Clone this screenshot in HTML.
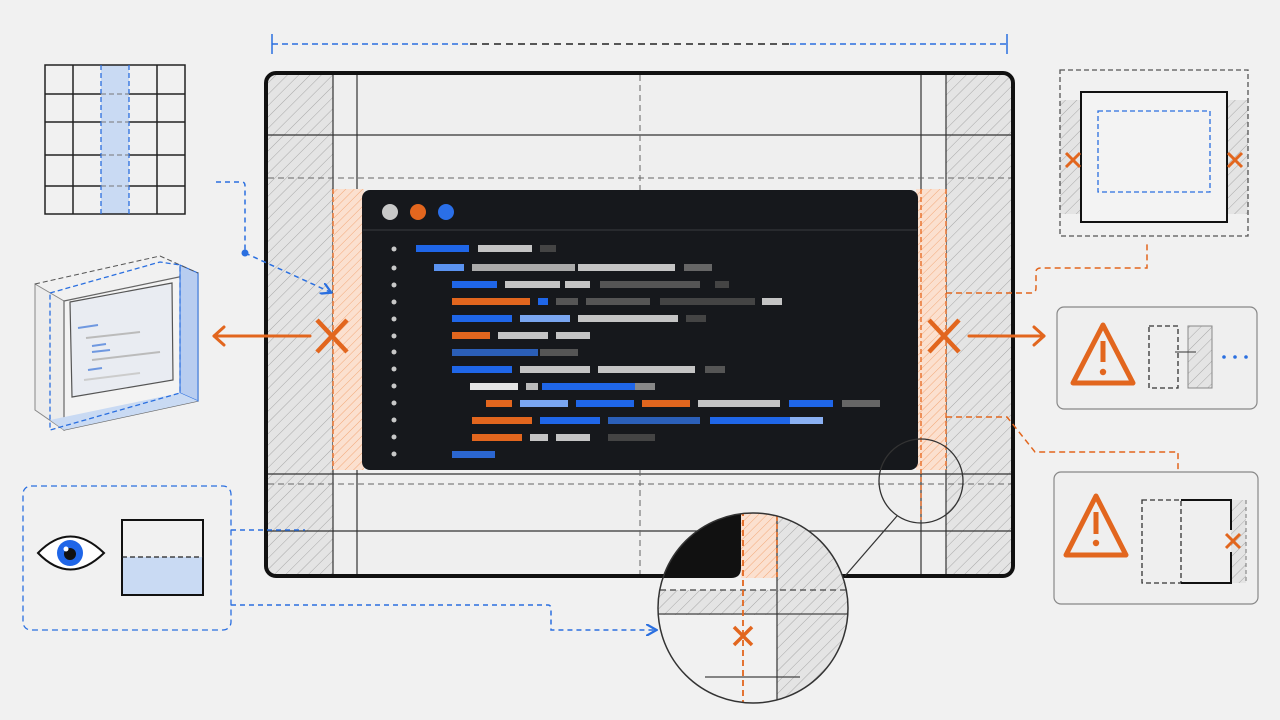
<!DOCTYPE html>
<html><head><meta charset="utf-8"><style>
html,body{margin:0;padding:0;background:#f1f1f1;}
svg{display:block;font-family:"Liberation Sans",sans-serif;}
</style></head><body>
<svg width="1280" height="720" viewBox="0 0 1280 720" xmlns="http://www.w3.org/2000/svg">
<defs>
<pattern id="hg" width="8" height="8" patternUnits="userSpaceOnUse" patternTransform="rotate(45)">
<rect width="8" height="8" fill="#e4e4e4"/><line x1="0" y1="0" x2="0" y2="8" stroke="#a8a8a8" stroke-width="1"/></pattern>
<pattern id="ho" width="6" height="6" patternUnits="userSpaceOnUse" patternTransform="rotate(45)">
<rect width="6" height="6" fill="#fbe0cf"/><line x1="0" y1="0" x2="0" y2="6" stroke="#f3a878" stroke-width="1"/></pattern>
<marker id="ab" markerWidth="8" markerHeight="8" refX="6" refY="4" orient="auto"><path d="M0,0 L7,4 L0,8" fill="none" stroke="#2a6fe0" stroke-width="1.5"/></marker>
<clipPath id="mag"><circle cx="753" cy="608" r="95"/></clipPath>
</defs>
<rect width="1280" height="720" fill="#f1f1f1"/>

<!-- top dimension line -->
<line x1="272" y1="44" x2="470" y2="44" stroke="#2a6fe0" stroke-width="1.5" stroke-dasharray="6,4"/>
<line x1="470" y1="44" x2="790" y2="44" stroke="#222" stroke-width="1.5" stroke-dasharray="7,5"/>
<line x1="790" y1="44" x2="1007" y2="44" stroke="#2a6fe0" stroke-width="1.5" stroke-dasharray="6,4"/>
<line x1="272" y1="34" x2="272" y2="54" stroke="#2a6fe0" stroke-width="1.5"/>
<line x1="1007" y1="34" x2="1007" y2="54" stroke="#2a6fe0" stroke-width="1.5"/>

<!-- main frame -->
<rect x="266" y="73" width="747" height="503" rx="10" fill="#efefef"/>
<rect x="268" y="75" width="65" height="499" fill="url(#hg)"/>
<rect x="946" y="75" width="65" height="499" fill="url(#hg)"/>
<g stroke="#333" stroke-width="1.2">
<line x1="333" y1="75" x2="333" y2="574"/><line x1="357" y1="75" x2="357" y2="574"/>
<line x1="921" y1="75" x2="921" y2="574"/><line x1="946" y1="75" x2="946" y2="574"/>
<line x1="268" y1="135" x2="1011" y2="135"/><line x1="268" y1="474" x2="1011" y2="474"/>
<line x1="268" y1="531" x2="1011" y2="531"/>
</g>
<g stroke="#666" stroke-width="1" stroke-dasharray="6,4">
<line x1="268" y1="178" x2="1011" y2="178"/><line x1="268" y1="484" x2="1011" y2="484"/>
<line x1="640" y1="75" x2="640" y2="190"/><line x1="640" y1="470" x2="640" y2="574"/>
</g>
<rect x="333" y="189" width="31" height="281" fill="url(#ho)"/>
<rect x="916" y="189" width="30" height="281" fill="url(#ho)"/>
<g stroke="#e8661c" stroke-width="1.3" stroke-dasharray="5,3" fill="none">
<line x1="333" y1="189" x2="333" y2="470"/><line x1="946" y1="189" x2="946" y2="470"/>
<line x1="921" y1="189" x2="921" y2="520"/>
</g>
<rect x="266" y="73" width="747" height="503" rx="10" fill="none" stroke="#111" stroke-width="4"/>

<!-- code window -->
<rect x="362" y="190" width="556" height="280" rx="8" fill="#16181c"/>
<line x1="363" y1="230" x2="917" y2="230" stroke="#3a3c40" stroke-width="1"/>
<circle cx="390" cy="212" r="8" fill="#c8c8c8"/><circle cx="418" cy="212" r="8" fill="#e2661e"/><circle cx="446" cy="212" r="8" fill="#2a6fe8"/>
<g fill="#c8c8c8">
<circle cx="394" cy="249" r="2.5"/><circle cx="394" cy="268" r="2.5"/><circle cx="394" cy="285" r="2.5"/><circle cx="394" cy="302" r="2.5"/><circle cx="394" cy="319" r="2.5"/><circle cx="394" cy="336" r="2.5"/><circle cx="394" cy="352" r="2.5"/><circle cx="394" cy="369" r="2.5"/><circle cx="394" cy="386" r="2.5"/><circle cx="394" cy="403" r="2.5"/><circle cx="394" cy="420" r="2.5"/><circle cx="394" cy="437" r="2.5"/><circle cx="394" cy="454" r="2.5"/>
</g>
<g>
<rect x="416" y="245" width="53" height="7" fill="#1f66e8"/><rect x="478" y="245" width="54" height="7" fill="#c4c4c4"/><rect x="540" y="245" width="16" height="7" fill="#444"/>
<rect x="434" y="264" width="30" height="7" fill="#5b93f0"/><rect x="472" y="264" width="103" height="7" fill="#aaa"/><rect x="578" y="264" width="97" height="7" fill="#c4c4c4"/><rect x="684" y="264" width="28" height="7" fill="#666"/>
<rect x="452" y="281" width="45" height="7" fill="#1f66e8"/><rect x="505" y="281" width="55" height="7" fill="#c4c4c4"/><rect x="565" y="281" width="25" height="7" fill="#c4c4c4"/><rect x="600" y="281" width="100" height="7" fill="#555"/><rect x="715" y="281" width="14" height="7" fill="#444"/>
<rect x="452" y="298" width="78" height="7" fill="#e2661e"/><rect x="538" y="298" width="10" height="7" fill="#1f66e8"/><rect x="556" y="298" width="22" height="7" fill="#555"/><rect x="586" y="298" width="64" height="7" fill="#555"/><rect x="660" y="298" width="95" height="7" fill="#444"/><rect x="762" y="298" width="20" height="7" fill="#c4c4c4"/>
<rect x="452" y="315" width="60" height="7" fill="#1f66e8"/><rect x="520" y="315" width="50" height="7" fill="#7aa6f0"/><rect x="578" y="315" width="100" height="7" fill="#c4c4c4"/><rect x="686" y="315" width="20" height="7" fill="#444"/>
<rect x="452" y="332" width="38" height="7" fill="#e2661e"/><rect x="498" y="332" width="50" height="7" fill="#c4c4c4"/><rect x="556" y="332" width="34" height="7" fill="#c4c4c4"/>
<rect x="452" y="349" width="86" height="7" fill="#2b5fb8"/><rect x="540" y="349" width="38" height="7" fill="#555"/>
<rect x="452" y="366" width="60" height="7" fill="#1f66e8"/><rect x="520" y="366" width="70" height="7" fill="#c4c4c4"/><rect x="598" y="366" width="97" height="7" fill="#c4c4c4"/><rect x="705" y="366" width="20" height="7" fill="#555"/>
<rect x="470" y="383" width="48" height="7" fill="#e4e4e4"/><rect x="526" y="383" width="12" height="7" fill="#bbb"/><rect x="542" y="383" width="93" height="7" fill="#1f66e8"/><rect x="635" y="383" width="20" height="7" fill="#888"/>
<rect x="486" y="400" width="26" height="7" fill="#e2661e"/><rect x="520" y="400" width="48" height="7" fill="#7aa6f0"/><rect x="576" y="400" width="58" height="7" fill="#1f66e8"/><rect x="642" y="400" width="48" height="7" fill="#e2661e"/><rect x="698" y="400" width="82" height="7" fill="#c4c4c4"/><rect x="789" y="400" width="44" height="7" fill="#1f66e8"/><rect x="842" y="400" width="38" height="7" fill="#666"/>
<rect x="472" y="417" width="60" height="7" fill="#e2661e"/><rect x="540" y="417" width="60" height="7" fill="#1f66e8"/><rect x="608" y="417" width="92" height="7" fill="#2b5fb8"/><rect x="710" y="417" width="80" height="7" fill="#1f66e8"/><rect x="790" y="417" width="33" height="7" fill="#8ab0f2"/>
<rect x="472" y="434" width="50" height="7" fill="#e2661e"/><rect x="530" y="434" width="18" height="7" fill="#c4c4c4"/><rect x="556" y="434" width="34" height="7" fill="#c4c4c4"/><rect x="608" y="434" width="47" height="7" fill="#444"/>
<rect x="452" y="451" width="43" height="7" fill="#2b66d0"/>
</g>

<!-- X marks and arrows -->
<g stroke="#e2661e" stroke-width="4.5" fill="none" stroke-linecap="butt">
<line x1="317" y1="320" x2="347" y2="352"/><line x1="347" y1="320" x2="317" y2="352"/>
<line x1="929" y1="320" x2="959" y2="352"/><line x1="959" y1="320" x2="929" y2="352"/>
</g>
<g stroke="#e2661e" stroke-width="3" fill="none" stroke-linecap="round" stroke-linejoin="round">
<line x1="310" y1="336" x2="214" y2="336"/><polyline points="224,327 214,336 224,345"/>
<line x1="969" y1="336" x2="1044" y2="336"/><polyline points="1034,327 1044,336 1034,345"/>
</g>
<!-- orange connectors -->
<g stroke="#e2661e" stroke-width="1.5" fill="none" stroke-dasharray="6,4">
<path d="M946,293 H1031 Q1036,293 1036,288 V272 Q1036,268 1041,268 H1147 V243"/>
<path d="M946,417 H1007 L1035,452 H1178 V480"/>
</g>
<!-- blue connectors -->
<g stroke="#2a6fe0" stroke-width="1.5" fill="none" stroke-dasharray="5,4">
<path d="M216,182 H242 Q245,182 245,186 V253"/>
<path d="M245,253 L330,292" marker-end="url(#ab)"/>
<path d="M231,530 H305"/>
<path d="M231,605 H548 Q551,605 551,609 V630 H655" marker-end="url(#ab)"/>
</g>
<circle cx="245" cy="253" r="3.5" fill="#2a6fe0"/>

<!-- grid -->
<rect x="101" y="65" width="28" height="149" fill="#c9daf3"/>
<g stroke="#222" stroke-width="1.5" fill="none">
<rect x="45" y="65" width="140" height="149"/>
<line x1="73" y1="65" x2="73" y2="214"/><line x1="157" y1="65" x2="157" y2="214"/>
<line x1="45" y1="94" x2="101" y2="94"/><line x1="129" y1="94" x2="185" y2="94"/>
<line x1="45" y1="122" x2="101" y2="122"/><line x1="129" y1="122" x2="185" y2="122"/>
<line x1="45" y1="155" x2="101" y2="155"/><line x1="129" y1="155" x2="185" y2="155"/>
<line x1="45" y1="186" x2="101" y2="186"/><line x1="129" y1="186" x2="185" y2="186"/>
</g>
<g stroke="#2a6fe0" stroke-width="1.3" stroke-dasharray="5,3" fill="none">
<line x1="101" y1="65" x2="101" y2="214"/><line x1="129" y1="65" x2="129" y2="214"/>
</g>
<g stroke="#777" stroke-width="1" stroke-dasharray="5,3"><line x1="101" y1="94" x2="129" y2="94"/><line x1="101" y1="122" x2="129" y2="122"/><line x1="101" y1="155" x2="129" y2="155"/><line x1="101" y1="186" x2="129" y2="186"/></g>

<!-- 3D box -->
<polygon points="35,284 64,301 64,430 35,410" fill="#ececec" stroke="#888" stroke-width="1"/>
<polygon points="64,301 198,273 198,401 64,430" fill="#f3f3f3" stroke="#666" stroke-width="1.2"/>
<polygon points="180,265 198,273 198,401 180,393" fill="#b8cdf0" stroke="#2a6fe0" stroke-width="1"/>
<polygon points="50,420 180,393 198,401 64,430" fill="#c9daf3"/>
<path d="M35,284 L160,256 L198,273" fill="none" stroke="#555" stroke-width="1" stroke-dasharray="5,3"/>
<polygon points="50,293 160,262 180,265 180,393 50,430" fill="none" stroke="#2a6fe0" stroke-width="1.3" stroke-dasharray="5,3"/>
<polygon points="70,302 172,283 173,380 72,397" fill="#e9ecf2" stroke="#555" stroke-width="1.2"/>
<g stroke-width="2"><line x1="78" y1="328" x2="98" y2="325" stroke="#6f98e0"/><line x1="86" y1="338" x2="140" y2="332" stroke="#bbb"/><line x1="92" y1="346" x2="106" y2="344" stroke="#6f98e0"/><line x1="92" y1="352" x2="110" y2="350" stroke="#6f98e0"/><line x1="92" y1="360" x2="160" y2="352" stroke="#bbb"/><line x1="88" y1="370" x2="102" y2="368" stroke="#6f98e0"/><line x1="84" y1="380" x2="140" y2="373" stroke="#ccc"/></g>

<!-- eye box -->
<rect x="23" y="486" width="208" height="144" rx="8" fill="none" stroke="#2a6fe0" stroke-width="1.3" stroke-dasharray="6,4"/>
<path d="M38,553 Q70,520 104,553 Q70,586 38,553 Z" fill="#fff" stroke="#111" stroke-width="2"/>
<circle cx="70" cy="553" r="13" fill="#1f66e8"/><circle cx="70" cy="554" r="6" fill="#111"/><circle cx="66" cy="549" r="2.5" fill="#fff"/>
<rect x="122" y="557" width="81" height="38" fill="#c9daf3"/>
<rect x="122" y="520" width="81" height="75" fill="none" stroke="#111" stroke-width="2"/>
<line x1="122" y1="557" x2="203" y2="557" stroke="#222" stroke-width="1.2" stroke-dasharray="5,3"/>

<!-- right top box -->
<rect x="1060" y="100" width="21" height="114" fill="url(#hg)"/><rect x="1227" y="100" width="21" height="114" fill="url(#hg)"/>
<rect x="1060" y="70" width="188" height="166" fill="none" stroke="#555" stroke-width="1.3" stroke-dasharray="5,3"/>
<rect x="1081" y="92" width="146" height="130" fill="#f3f3f3" stroke="#111" stroke-width="2"/>
<rect x="1098" y="111" width="112" height="81" fill="none" stroke="#2a6fe0" stroke-width="1.3" stroke-dasharray="5,3"/>
<g stroke="#e2661e" stroke-width="3"><line x1="1066" y1="153" x2="1080" y2="167"/><line x1="1080" y1="153" x2="1066" y2="167"/><line x1="1228" y1="153" x2="1242" y2="167"/><line x1="1242" y1="153" x2="1228" y2="167"/></g>

<!-- warning box 1 -->
<rect x="1057" y="307" width="200" height="102" rx="7" fill="#efefef" stroke="#888" stroke-width="1.2"/>
<path d="M1103,325 L1133,383 H1073 Z" fill="none" stroke="#e2661e" stroke-width="5" stroke-linejoin="round"/>
<line x1="1103" y1="341" x2="1103" y2="362" stroke="#e2661e" stroke-width="5"/><circle cx="1103" cy="372" r="3.2" fill="#e2661e"/>
<rect x="1149" y="326" width="29" height="62" fill="none" stroke="#333" stroke-width="1.3" stroke-dasharray="5,3"/>
<rect x="1188" y="326" width="24" height="62" fill="url(#hg)" stroke="#888" stroke-width="1"/>
<line x1="1175" y1="352" x2="1196" y2="352" stroke="#333" stroke-width="1"/>
<g fill="#2a6fe0"><circle cx="1224" cy="357" r="1.8"/><circle cx="1235" cy="357" r="1.8"/><circle cx="1246" cy="357" r="1.8"/></g>

<!-- warning box 2 -->
<rect x="1054" y="472" width="204" height="132" rx="7" fill="#efefef" stroke="#888" stroke-width="1.2"/>
<path d="M1096,496 L1126,555 H1066 Z" fill="none" stroke="#e2661e" stroke-width="5" stroke-linejoin="round"/>
<line x1="1096" y1="512" x2="1096" y2="534" stroke="#e2661e" stroke-width="5"/><circle cx="1096" cy="543" r="3.2" fill="#e2661e"/>
<rect x="1231" y="500" width="15" height="83" fill="url(#hg)"/>
<rect x="1142" y="500" width="39" height="83" fill="none" stroke="#333" stroke-width="1.3" stroke-dasharray="5,3"/>
<path d="M1181,500 H1231 V530 M1231,552 V583 H1181" fill="none" stroke="#111" stroke-width="2"/>
<line x1="1246" y1="500" x2="1246" y2="583" stroke="#777" stroke-width="1" stroke-dasharray="4,3"/>
<g stroke="#e2661e" stroke-width="3"><line x1="1226" y1="534" x2="1240" y2="548"/><line x1="1240" y1="534" x2="1226" y2="548"/></g>

<!-- magnifier -->
<circle cx="921" cy="481" r="42" fill="none" stroke="#333" stroke-width="1.3"/>
<line x1="897" y1="516" x2="845" y2="576" stroke="#333" stroke-width="1.2"/>
<g clip-path="url(#mag)">
<rect x="650" y="500" width="210" height="220" fill="#f1f1f1"/>
<rect x="777" y="500" width="90" height="220" fill="url(#hg)"/>
<rect x="650" y="590" width="127" height="25" fill="url(#hg)"/>
<rect x="741" y="500" width="36" height="78" fill="url(#ho)"/>
<path d="M650,500 H741 V568 Q741,578 731,578 H650 Z" fill="#111"/>
<line x1="650" y1="590" x2="860" y2="590" stroke="#444" stroke-width="1.2" stroke-dasharray="6,4"/>
<line x1="650" y1="614" x2="860" y2="614" stroke="#444" stroke-width="1.2"/>
<line x1="705" y1="677" x2="800" y2="677" stroke="#444" stroke-width="1.2"/>
<line x1="777" y1="500" x2="777" y2="720" stroke="#333" stroke-width="1.2"/>
<line x1="743" y1="500" x2="743" y2="720" stroke="#e2661e" stroke-width="1.8" stroke-dasharray="6,4"/>
<line x1="777" y1="500" x2="777" y2="578" stroke="#e2661e" stroke-width="1.5" stroke-dasharray="5,3"/>
</g>
<circle cx="753" cy="608" r="95" fill="none" stroke="#333" stroke-width="1.5"/>
<g stroke="#e2661e" stroke-width="3.5"><line x1="734" y1="627" x2="752" y2="645"/><line x1="752" y1="627" x2="734" y2="645"/></g>
</svg>
</body></html>
